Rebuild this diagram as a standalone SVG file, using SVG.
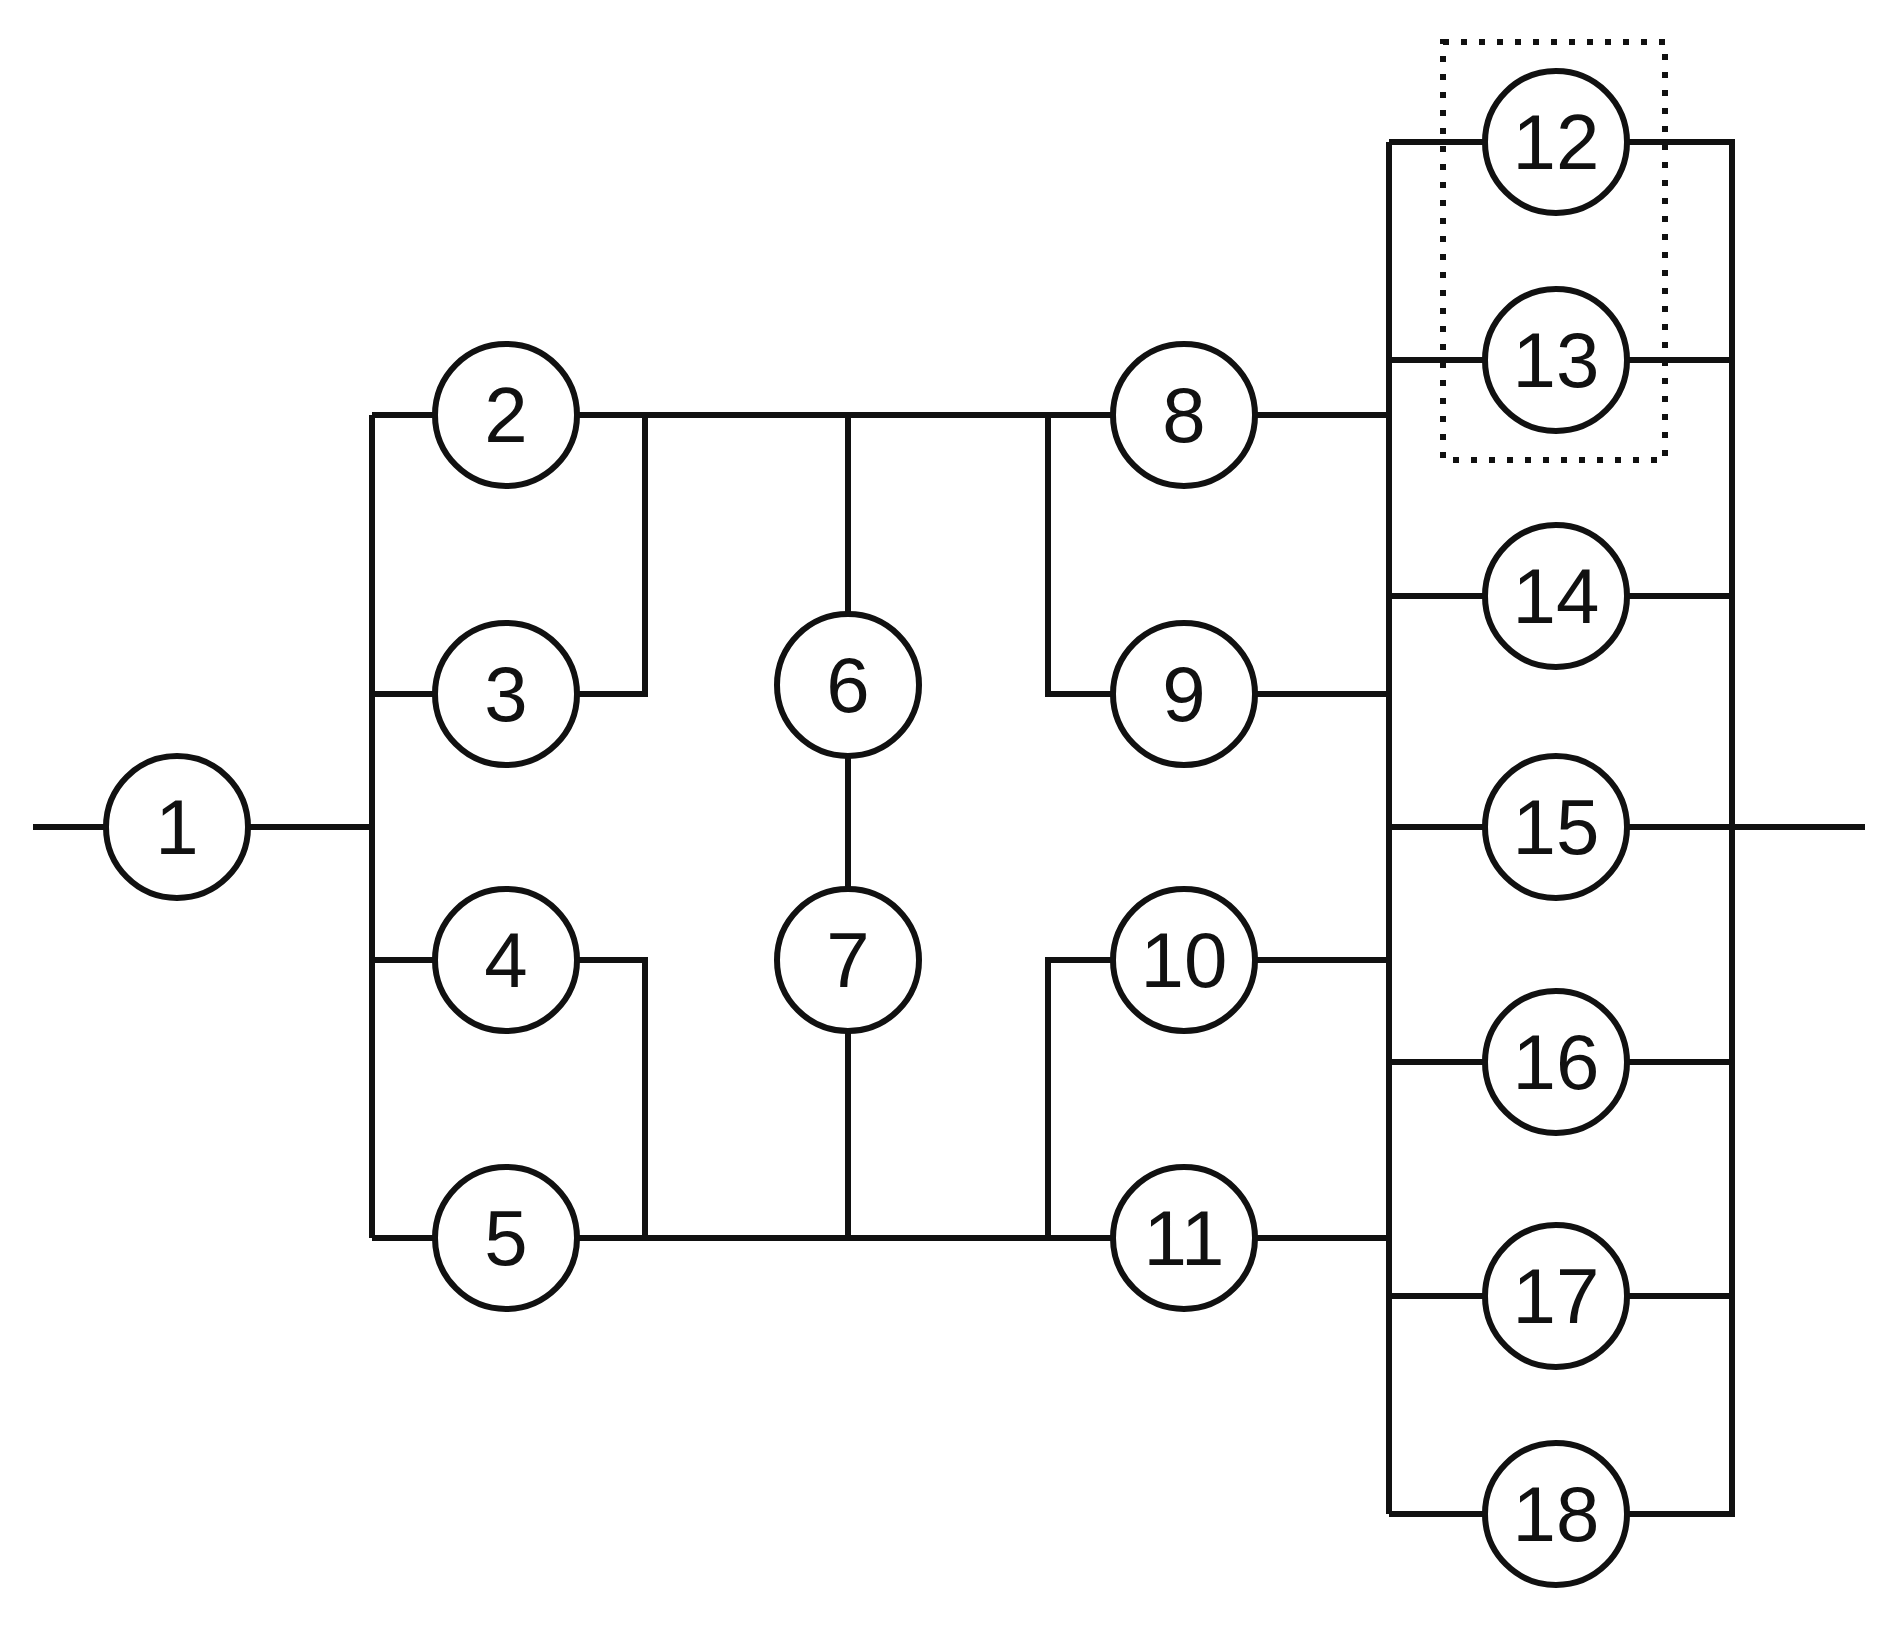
<svg xmlns="http://www.w3.org/2000/svg" width="1893" height="1626" viewBox="0 0 1893 1626">
<style>
.n circle{fill:#fff;stroke:#111;stroke-width:6}
.n text{font-family:"Liberation Sans",Arial,sans-serif;font-size:78px;fill:#111;text-anchor:middle;dominant-baseline:central}
.c path{fill:none;stroke:#111;stroke-width:6}
</style>
<rect width="1893" height="1626" fill="#fff"/>
<g id="connectors" class="c">
<path d="M33 827H372M372 415V1238M372 415H506M372 694H506M372 960H506M372 1238H506"/>
<path d="M506 415H1184M645 415V694H506M848 415V960M848 960V1238M506 960H645V1238M506 1238H1184M1048 415V694H1184M1048 1238V960H1184"/>
<path d="M1184 415H1389M1184 694H1389M1184 960H1389M1184 1238H1389M1389 142V1514"/>
<path d="M1389 142H1732V1514H1389M1389 360H1732M1389 596H1732M1389 827H1865M1389 1062H1732M1389 1296H1732"/>
<rect x="1443" y="42" width="222" height="418" fill="none" stroke="#111" stroke-width="6" stroke-dasharray="6 12"/>
</g>
<g id="n1" class="n"><circle cx="177" cy="827" r="71"/><text x="177" y="827">1</text></g>
<g id="n2" class="n"><circle cx="506" cy="415" r="71"/><text x="506" y="415">2</text></g>
<g id="n3" class="n"><circle cx="506" cy="694" r="71"/><text x="506" y="694">3</text></g>
<g id="n4" class="n"><circle cx="506" cy="960" r="71"/><text x="506" y="960">4</text></g>
<g id="n5" class="n"><circle cx="506" cy="1238" r="71"/><text x="506" y="1238">5</text></g>
<g id="n6" class="n"><circle cx="848" cy="685" r="71"/><text x="848" y="685">6</text></g>
<g id="n7" class="n"><circle cx="848" cy="960" r="71"/><text x="848" y="960">7</text></g>
<g id="n8" class="n"><circle cx="1184" cy="415" r="71"/><text x="1184" y="415">8</text></g>
<g id="n9" class="n"><circle cx="1184" cy="694" r="71"/><text x="1184" y="694">9</text></g>
<g id="n10" class="n"><circle cx="1184" cy="960" r="71"/><text x="1184" y="960">10</text></g>
<g id="n11" class="n"><circle cx="1184" cy="1238" r="71"/><text x="1184" y="1238">11</text></g>
<g id="n12" class="n"><circle cx="1556" cy="142" r="71"/><text x="1556" y="142">12</text></g>
<g id="n13" class="n"><circle cx="1556" cy="360" r="71"/><text x="1556" y="360">13</text></g>
<g id="n14" class="n"><circle cx="1556" cy="596" r="71"/><text x="1556" y="596">14</text></g>
<g id="n15" class="n"><circle cx="1556" cy="827" r="71"/><text x="1556" y="827">15</text></g>
<g id="n16" class="n"><circle cx="1556" cy="1062" r="71"/><text x="1556" y="1062">16</text></g>
<g id="n17" class="n"><circle cx="1556" cy="1296" r="71"/><text x="1556" y="1296">17</text></g>
<g id="n18" class="n"><circle cx="1556" cy="1514" r="71"/><text x="1556" y="1514">18</text></g>
</svg>
